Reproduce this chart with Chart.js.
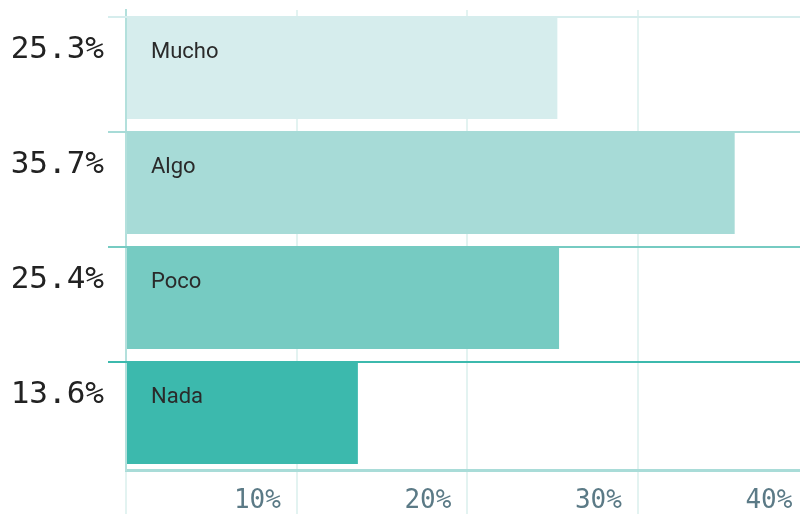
<!DOCTYPE html>
<html>
<head>
<meta charset="utf-8">
<script src="https://cdn.jsdelivr.net/npm/chart.js@4"></script>
<style>
  html, body { margin: 0; padding: 0; overflow: hidden; background: #fff; }
</style>
</head>
<body>
<canvas id="chart" width="808" height="514"></canvas>
<script>
const categories = ["Mucho", "Algo", "Poco", "Nada"];
const shares = [25.3, 35.7, 25.4, 13.6];
const xTicks = [10, 20, 30, 40];
const barColors = ["#d6eded", "#a7dbd7", "#76cbc2", "#3cb9ad"];

// row rules across the top of each bar + the category name inside it
const rowDecor = {
  id: "rowDecor",
  beforeDatasetsDraw(chart) {
    const { ctx, chartArea } = chart;
    const bars = chart.getDatasetMeta(0).data;
    ctx.save();
    ctx.lineWidth = 2;
    bars.forEach((bar, i) => {
      const top = Math.round(bar.y - bar.height / 2) + 1;
      ctx.strokeStyle = barColors[i];
      ctx.beginPath();
      ctx.moveTo(chartArea.left - 18, top);
      ctx.lineTo(chart.width, top);
      ctx.stroke();
    });
    ctx.restore();
  },
  afterDatasetsDraw(chart) {
    const { ctx } = chart;
    const bars = chart.getDatasetMeta(0).data;
    ctx.save();
    ctx.font = '22px Roboto';
    ctx.fillStyle = "#2a2a2a";
    ctx.textAlign = "left";
    ctx.textBaseline = "alphabetic";
    bars.forEach((bar, i) => {
      ctx.fillText(categories[i], bar.base + 24, bar.y - 10);
    });
    ctx.restore();
  },
};

new Chart(document.getElementById("chart"), {
  type: "bar",
  data: {
    labels: shares.map((v) => [v.toFixed(1) + "%", ""]),
    datasets: [
      {
        data: shares,
        backgroundColor: barColors,
        categoryPercentage: 1,
        barPercentage: 0.896,
      },
    ],
  },
  plugins: [rowDecor],
  options: {
    indexAxis: "y",
    responsive: false,
    animation: false,
    layout: { padding: { top: 10 } },
    plugins: {
      legend: { display: false },
      tooltip: { enabled: false },
    },
    scales: {
      x: {
        min: 0,
        max: 40,
        afterBuildTicks: (s) => {
          s.ticks = [0, ...xTicks].map((v) => ({ value: v }));
        },
        afterFit: (s) => {
          s.height = 44;
        },
        grid: {
          color: "#e3f3f1",
          lineWidth: 2,
          tickLength: 44,
          tickColor: "#e3f3f1",
          tickWidth: 2,
        },
        border: { color: "#a9dcd8", width: 3 },
        ticks: {
          align: "end",
          padding: -28,
          autoSkip: false,
          maxRotation: 0,
          color: "#5b7a86",
          font: { family: "DejaVu Sans Mono", size: 26 },
          callback: (v) => (v === 0 ? "" : v + "% "),
        },
      },
      y: {
        afterFit: (s) => {
          s.width = 126;
          s.paddingTop = 0;
          s.paddingBottom = 0;
        },
        grid: { display: false, drawTicks: false },
        border: { color: "#b3e0dc", width: 2 },
        ticks: {
          padding: 22,
          color: "#222",
          font: { family: "DejaVu Sans Mono", size: 31, lineHeight: "36px" },
        },
      },
    },
  },
});
</script>
</body>
</html>
